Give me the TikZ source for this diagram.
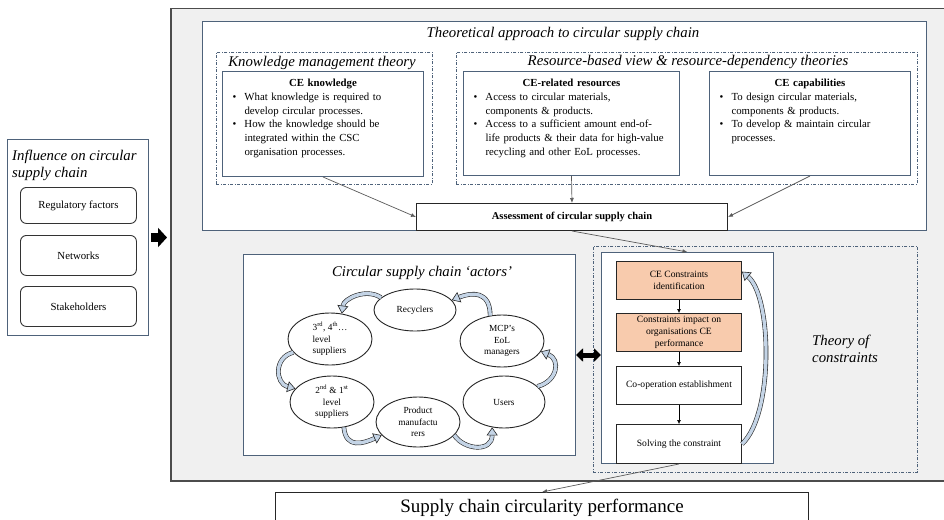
\documentclass[tikz,border=0pt]{standalone}
\usepackage{fontspec}
\setmainfont{Liberation Serif}
\usetikzlibrary{arrows.meta,shapes.geometric}

\definecolor{panelblue}{RGB}{78,98,122}
\definecolor{backgray}{RGB}{240,240,240}
\definecolor{peach}{RGB}{248,203,173}
\definecolor{cyclefill}{RGB}{196,212,230}
\definecolor{linkgray}{RGB}{90,90,90}

\newcommand{\bitem}[1]{\par\hangindent=18pt\hangafter=1\noindent\hspace*{6pt}\makebox[12pt][l]{\textbullet}#1\par}

\tikzset{
  outerbox/.style={draw=black!70, line width=1.5pt, fill=backgray, anchor=north west, inner sep=0pt},
  panel/.style={draw=panelblue, line width=1pt, fill=white, anchor=north west, inner sep=0pt},
  dashframe/.style={draw=panelblue, line width=0.9pt, dash pattern=on 3pt off 1.5pt on 1pt off 1.5pt, anchor=north west, inner sep=0pt},
  title/.style={font=\fontsize{14.8}{17}\selectfont\itshape, inner sep=1pt},
  factor/.style={draw=black!80, line width=0.9pt, rounded corners=6pt, fill=white, minimum width=116pt, anchor=north west, font=\fontsize{10.8}{12}\selectfont},
  plainbox/.style={draw=black!85, line width=1pt, fill=white, anchor=north west, inner sep=0pt},
  boxtext/.style={anchor=north, inner xsep=4pt, inner ysep=8pt, align=left, font=\fontsize{10.8}{13.7}\selectfont},
  actor/.style={ellipse, draw=black!85, line width=0.9pt, fill=white, inner sep=0pt, align=center, font=\fontsize{9.3}{11.5}\selectfont},
  stagebox/.style={draw=black!85, line width=1pt, minimum width=125pt, minimum height=38pt, anchor=north west, inner sep=0pt, align=center, font=\fontsize{9.6}{12}\selectfont},
  link/.style={draw=linkgray, line width=0.7pt, -{Latex[length=5pt,width=4pt]}},
  flowdown/.style={draw=black, line width=0.6pt, -{Latex[length=4pt,width=4pt]}},
  loopflow/.style={draw=black!85, line width=0.6pt, double=cyclefill, double distance=3.4pt, -{Triangle[length=8pt,width=11pt,fill=cyclefill]}}
}

\begin{document}
\begin{tikzpicture}[x=1pt,y=-1pt]
\useasboundingbox (0,0) rectangle (944,519);
\node[outerbox, minimum width=800pt, minimum height=472pt] (outer) at (170,8) {};

% influence
\node[panel, minimum width=141pt, minimum height=196pt] (infl) at (7,139) {};
\node[title, anchor=north west, align=left] (infltitle) at (11,149) {Influence on circular\\supply chain};
\node[factor, minimum height=36pt] (reg) at (20,187) {Regulatory factors};
\node[factor, minimum height=40pt] (net) at (20,235) {Networks};
\node[factor, minimum height=40pt] (stake) at (20,286) {Stakeholders};
\draw[black, line width=9pt, -{Triangle[length=9pt,width=19pt]}, shorten <=2pt, shorten >=3pt] (infl.east) -- (infl.east -| outer.west);

% theoretical approach
\node[panel, minimum width=724pt, minimum height=209pt] (theo) at (202,21) {};
\node[title] (theotitle) at (563,34) {Theoretical approach to circular supply chain};

\node[dashframe, minimum width=216pt, minimum height=132pt] (kframe) at (216,52) {};
\node[title] (ktitle) at (322,63) {Knowledge management theory};
\node[panel, minimum width=201pt, minimum height=105pt] (kbox) at (222,71) {};
\node[boxtext, text width=193pt] (ktext) at (kbox.north) {{\centering\textbf{CE knowledge}\par}
  \bitem{What knowledge is required to\newline develop circular processes.}
  \bitem{How the knowledge should be\newline integrated within the CSC\newline organisation processes.}};

\node[dashframe, minimum width=461pt, minimum height=132pt] (rframe) at (456,52) {};
\node[title] (rtitle) at (688,62) {Resource-based view \& resource-dependency theories};
\node[panel, minimum width=216pt, minimum height=104pt] (resbox) at (463,71) {};
\node[boxtext, text width=208pt] (restext) at (resbox.north) {{\centering\textbf{CE-related resources}\par}
  \bitem{Access to circular materials,\newline components \& products.}
  \bitem{Access to a sufficient amount end-of-\newline life products \& their data for high-value\newline recycling and other EoL processes.}};
\node[panel, minimum width=201pt, minimum height=104pt] (capbox) at (709,71) {};
\node[boxtext, text width=193pt] (captext) at (capbox.north) {{\centering\textbf{CE capabilities}\par}
  \bitem{To design circular materials,\newline components \& products.}
  \bitem{To develop \& maintain circular\newline processes.}};

\node[plainbox, minimum width=311pt, minimum height=27pt, font=\bfseries\fontsize{10.5}{12}\selectfont] (assess) at (416,203) {Assessment of circular supply chain};
\draw[link] (kbox.south) -- (assess.west);
\draw[link] (resbox.south) -- (assess.north);
\draw[link] (capbox.south) -- (assess.east);

% actors
\node[panel, minimum width=332pt, minimum height=201pt] (actors) at (243,254) {};
\node[title] (atitle) at (422,273) {Circular supply chain `actors'};
\node[actor, minimum width=82pt, minimum height=42pt] (rec) at (415,310) {Recyclers};
\node[actor, minimum width=84pt, minimum height=52pt, align=left] (sup3) at (330,339) {3\textsuperscript{rd}, 4\textsuperscript{th}\ldots\\level\\suppliers};
\node[actor, minimum width=84pt, minimum height=52pt] (mcp) at (502,341) {MCP’s\\EoL\\managers};
\node[actor, minimum width=84pt, minimum height=52pt] (sup2) at (332,402) {2\textsuperscript{nd} \& 1\textsuperscript{st}\\level\\suppliers};
\node[actor, minimum width=84pt, minimum height=50pt] (manu) at (418,422) {Product\\manufactu\\rers};
\node[actor, minimum width=82pt, minimum height=52pt] (users) at (504,402) {Users};
\draw[loopflow] (rec.160) .. controls +(-15,-10) and +(2,-15) .. (sup3.65);
\draw[loopflow] (mcp.115) .. controls +(0,-25) and +(20,-8) .. (rec.15);
\draw[loopflow] (sup3.200) .. controls +(-20,5) and +(-20,-5) .. (sup2.160);
\draw[loopflow] (sup2.-65) .. controls +(2,22) and +(-18,8) .. (manu.200);
\draw[loopflow] (manu.-20) .. controls +(10,15) and +(0,25) .. (users.-115);
\draw[loopflow] (users.25) .. controls +(20,-5) and +(20,8) .. (mcp.-15);

% theory of constraints
\node[dashframe, minimum width=324pt, minimum height=226pt] (tocframe) at (593,246) {};
\node[panel, minimum width=172pt, minimum height=211pt] (tocbox) at (601,252) {};
\node[title, anchor=west, align=left] (toctitle) at (811,349) {Theory of\\constraints};
\node[stagebox, fill=peach] (ident) at (616,261) {CE Constraints\\identification};
\node[stagebox, fill=peach] (impact) at (616,313) {Constraints impact on\\organisations CE\\performance};
\node[stagebox, fill=white] (coop) at (616,366) {Co-operation establishment};
\node[stagebox, fill=white, minimum height=39pt] (solve) at (616,424) {Solving the constraint};
\draw[flowdown] (ident) -- (impact);
\draw[flowdown] (impact) -- (coop);
\draw[flowdown] (coop) -- (solve);
\draw[loopflow] (solve.east) .. controls +(32,-30) and +(30,25) .. (ident.8);
\draw[link] (assess.south) -- (tocbox.north);
\draw[black, line width=5pt, {Triangle[length=7pt,width=13pt]}-{Triangle[length=7pt,width=13pt]}] (actors.east) -- (actors.east -| tocbox.west);

% performance
\node[plainbox, minimum width=533pt, minimum height=30pt, font=\fontsize{19}{22}\selectfont] (perf) at (275,492) {Supply chain circularity performance};
\draw[link] (solve.south) -- (perf.north);
\end{tikzpicture}
\end{document}
